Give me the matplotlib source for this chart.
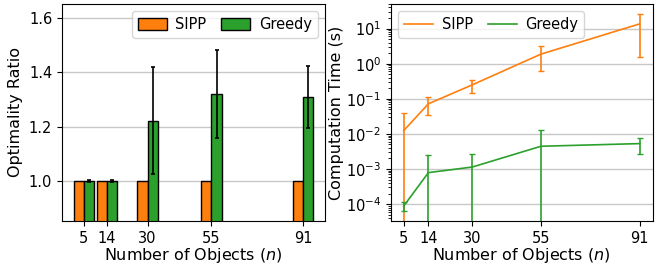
import matplotlib
matplotlib.use("Agg")
import matplotlib.pyplot as plt
from matplotlib.lines import Line2D
import numpy as np

n_objects = [5, 14, 30, 55, 91]
tick_labels = ["5", "14", "30", "55", "91"]

# Optimality ratio
sipp_ratio = [1.0, 1.0, 1.0, 1.0, 1.0]
greedy_ratio = [1.0, 1.0, 1.222, 1.320, 1.307]
greedy_ratio_err = [0.002, 0.002, 0.197, 0.161, 0.114]

# Computation time (s)
sipp_time = [0.0124, 0.072, 0.25, 1.87, 13.6]
sipp_time_err = [0.028, 0.038, 0.10, 1.25, 12.0]
greedy_time = [8.8e-5, 7.9e-4, 1.14e-3, 4.45e-3, 5.3e-3]
greedy_time_err = [2.4e-5, 1.8e-3, 1.46e-3, 8.8e-3, 2.6e-3]

ORANGE = "#ff7f0e"
GREEN = "#2ca02c"

plt.rcParams["font.size"] = 10.5
plt.rcParams["axes.labelsize"] = 11.5
plt.rcParams["xtick.labelsize"] = 10.5
plt.rcParams["ytick.labelsize"] = 10.5
plt.rcParams["legend.fontsize"] = 10.5
fig = plt.figure(figsize=(6.68, 2.65), dpi=100)
ax1 = fig.add_axes([0.0928, 0.1660, 0.394, 0.8190])
ax2 = fig.add_axes([0.585, 0.1660, 0.392, 0.8190])

x = np.array(n_objects, dtype=float)
w = 4.0
ax1.set_axisbelow(True)
ax1.bar(x - w / 2, sipp_ratio, width=w, color=ORANGE, edgecolor="black",
        linewidth=1.0, label="SIPP")
ax1.bar(x + w / 2, greedy_ratio, width=w, color=GREEN, edgecolor="black",
        linewidth=1.0, label="Greedy", yerr=greedy_ratio_err, capsize=1.5,
        error_kw=dict(elinewidth=1.2, capthick=1.2))
ax1.set_ylim(0.853, 1.65)
ax1.set_yticks([1.0, 1.2, 1.4, 1.6])
ax1.set_xticks(x)
ax1.set_xticklabels(tick_labels)
ax1.set_xlim(-3.6, 99.6)
ax1.yaxis.grid(True, color="#c8c8c8", linewidth=1.0)
ax1.set_ylabel("Optimality Ratio", labelpad=4)
ax1.set_xlabel("Number of Objects ($n$)", labelpad=0)
ax1.legend(loc="upper right", ncol=2, handlelength=2.0, columnspacing=1.0,
           borderaxespad=0.5, handletextpad=0.6, handleheight=0.9)

ax2.set_axisbelow(True)
ax2.errorbar(x, sipp_time, yerr=sipp_time_err, color=ORANGE, linewidth=1.2,
             capsize=2, elinewidth=1.2)
ax2.errorbar(x, greedy_time, yerr=greedy_time_err, color=GREEN, linewidth=1.2,
             capsize=2, elinewidth=1.2)
ax2.set_yscale("log")
ax2.set_ylim(10 ** -4.48, 10 ** 1.70)
ax2.set_xticks(x)
ax2.set_xticklabels(tick_labels)
ax2.set_xlim(0.3, 95.7)
ax2.yaxis.grid(True, which="major", color="#c8c8c8", linewidth=1.0)
ax2.set_ylabel("Computation Time (s)", labelpad=1)
ax2.set_xlabel("Number of Objects ($n$)", labelpad=0)
handles = [Line2D([], [], color=ORANGE, linewidth=1.2),
           Line2D([], [], color=GREEN, linewidth=1.2)]
ax2.legend(handles, ["SIPP", "Greedy"], loc="upper left", ncol=2,
           handlelength=2.0, columnspacing=1.0, borderaxespad=0.5,
           handletextpad=0.6)

fig.savefig("out.png", dpi=100)
